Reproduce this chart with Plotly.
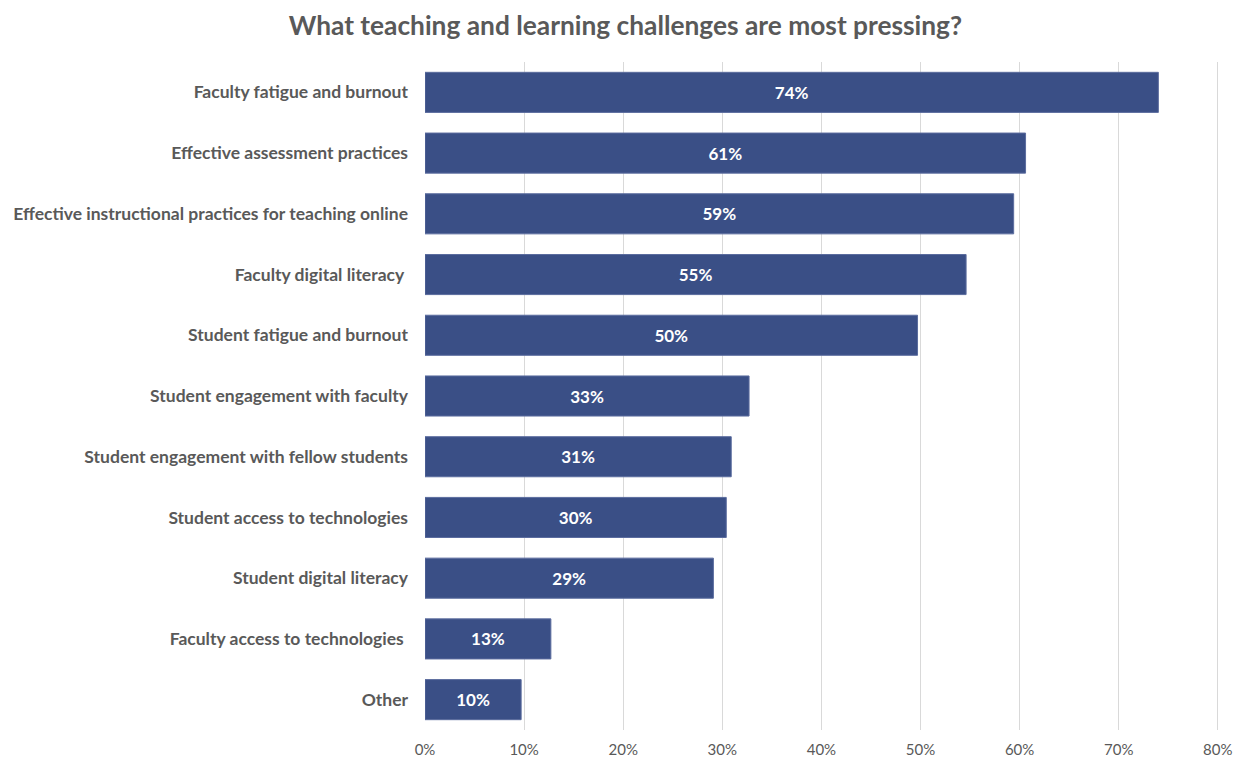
import plotly.graph_objects as go

# Survey responses, listed top to bottom
categories = [
    "Faculty fatigue and burnout",
    "Effective assessment practices",
    "Effective instructional practices for teaching online",
    "Faculty digital literacy\u00a0",
    "Student fatigue and burnout",
    "Student engagement with faculty",
    "Student engagement with fellow students",
    "Student access to technologies",
    "Student digital literacy",
    "Faculty access to technologies\u00a0",
    "Other",
]
shares = [0.740, 0.606, 0.594, 0.546, 0.497, 0.327, 0.309, 0.304, 0.291, 0.127, 0.097]

x_ticks = [0, 0.1, 0.2, 0.3, 0.4, 0.5, 0.6, 0.7, 0.8]
x_tick_labels = ["0%", "10%", "20%", "30%", "40%", "50%", "60%", "70%", "80%"]

FONT = "Lato, 'Open Sans', sans-serif"
GREY = "#595959"

fig = go.Figure(
    go.Bar(
        y=categories,
        x=shares,
        orientation="h",
        width=0.66,
        marker=dict(color="#3A4F86", line=dict(color="#5B6C9E", width=1)),
        texttemplate="<b>%{x:.0%}</b>",
        textposition="inside",
        insidetextanchor="middle",
        textfont=dict(color="white", size=17, family=FONT),
        hoverinfo="skip",
    )
)

fig.update_layout(
    width=1236,
    height=758,
    margin=dict(l=425, r=17, t=62, b=28),
    paper_bgcolor="white",
    plot_bgcolor="white",
    title=dict(
        text="<b>What teaching and learning challenges are most pressing?</b>",
        x=0.506,
        xanchor="center",
        y=0.966,
        yanchor="middle",
        font=dict(size=26.3, color=GREY, family=FONT),
    ),
    showlegend=False,
)

fig.update_xaxes(
    range=[0, 0.8012],
    tickvals=x_ticks,
    ticktext=x_tick_labels,
    showgrid=True,
    gridcolor="#D9D9D9",
    gridwidth=1,
    zeroline=False,
    showline=False,
    tickfont=dict(size=15, color=GREY, family=FONT),
    ticks="",
    ticklabelstandoff=9,
    automargin=False,
)

fig.update_yaxes(
    categoryorder="array",
    categoryarray=categories,
    autorange="reversed",
    showgrid=False,
    zeroline=False,
    showline=False,
    ticks="",
    ticklabelstandoff=16,
    tickfont=dict(size=17.5, color=GREY, family=FONT),
    tickprefix="<b>",
    ticksuffix="</b>",
    automargin=False,
)

fig.write_html("out.html")
